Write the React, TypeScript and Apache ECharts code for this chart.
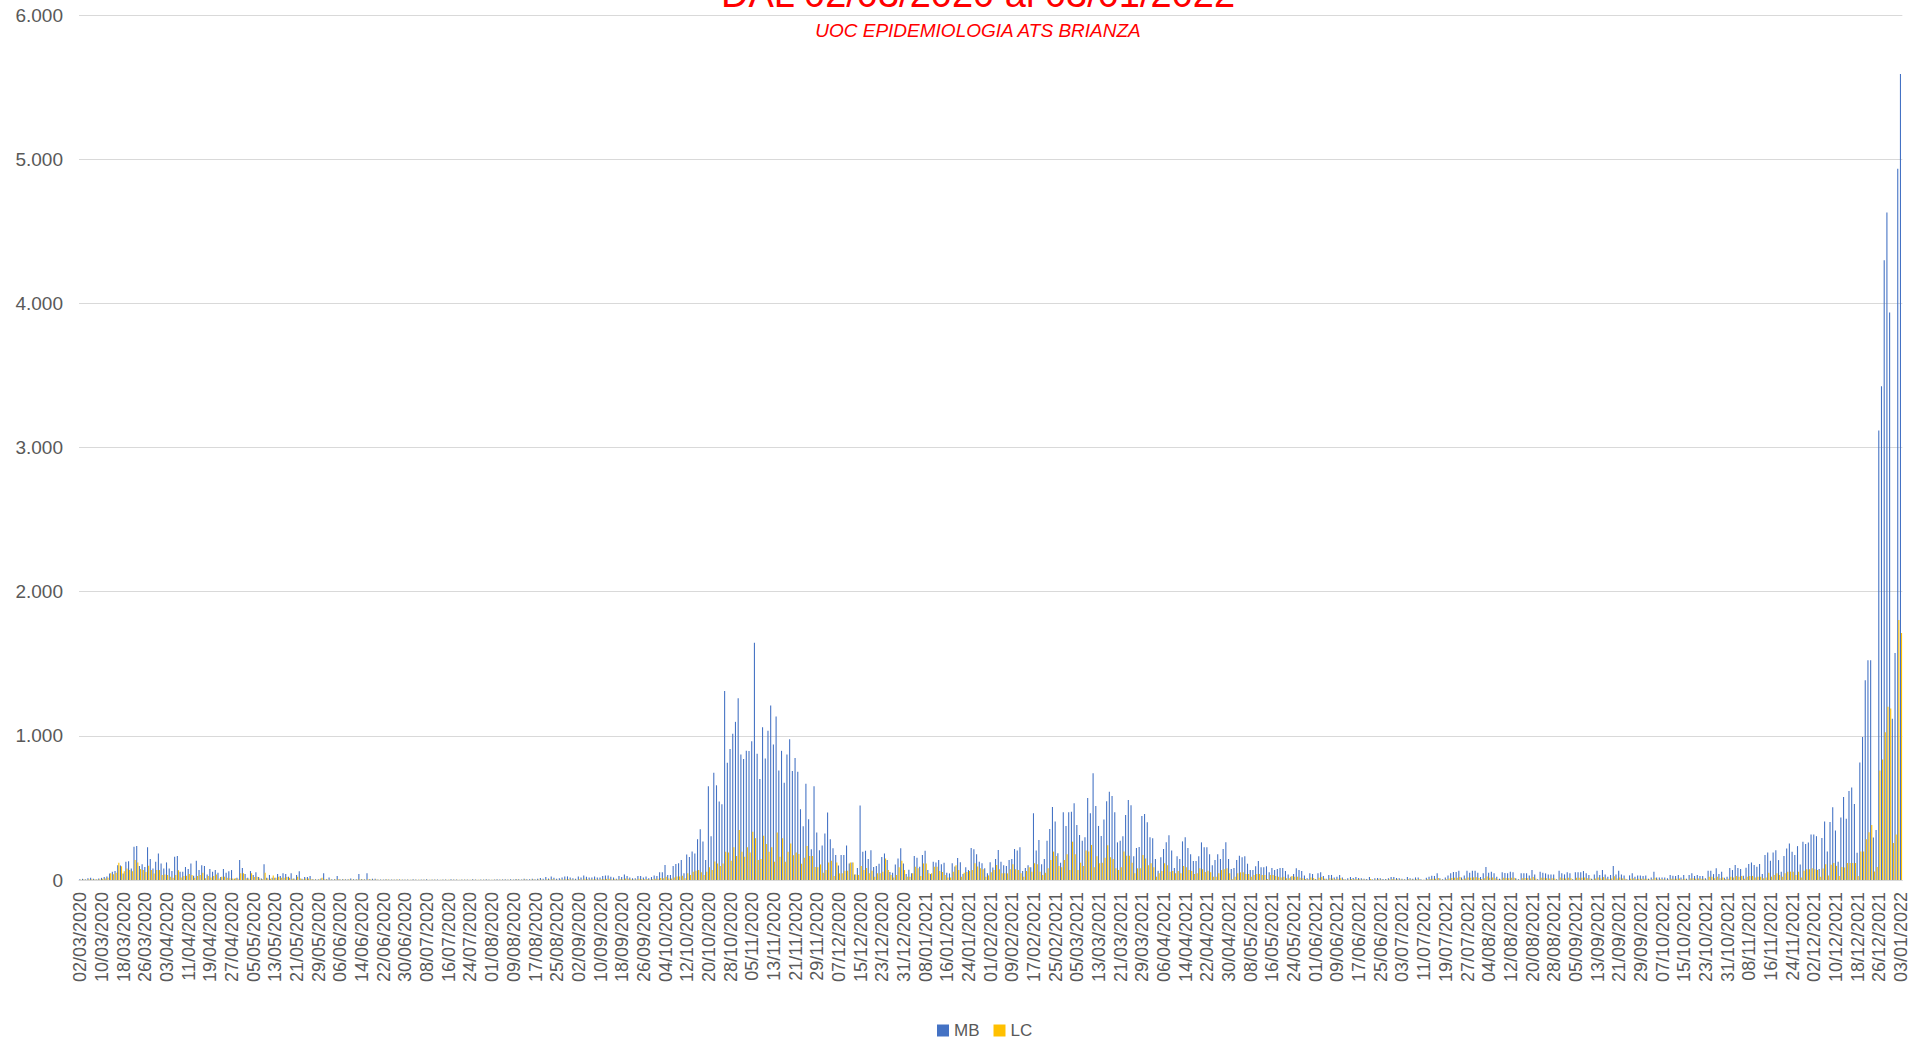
import React, { useEffect, useRef } from "react";
import * as echarts from "echarts";

// ---- Categories: daily, 02/03/2020 .. 03/01/2022 ----
const START_YEAR = 2020;
const START_MONTH = 3; // March
const START_DAY = 2;
const DAY_COUNT = 673;

function buildCategories(): string[] {
  const out: string[] = [];
  const base = Date.UTC(START_YEAR, START_MONTH - 1, START_DAY);
  for (let i = 0; i < DAY_COUNT; i++) {
    const d = new Date(base + i * 86400000);
    const dd = String(d.getUTCDate()).padStart(2, "0");
    const mm = String(d.getUTCMonth() + 1).padStart(2, "0");
    out.push(`${dd}/${mm}/${d.getUTCFullYear()}`);
  }
  return out;
}
const categories = buildCategories();

// ---- MB (Monza Brianza) daily values ----
const MB_SPRING_2020 = [
  5, 8, 5, 12, 15, 8, 5, 10, 15, 20, 25, 45, 57, 62, 103, 100, 45, 126, 130, 80,
  230, 235, 97, 110, 90, 228, 145, 80, 126, 184, 115, 80, 122, 80, 62, 161, 166, 57, 57, 90,
  76, 115, 30, 133, 69, 103, 97, 39, 76, 57, 69, 50, 20, 76, 50, 60, 69, 8, 15, 138,
  83, 41, 16, 62, 35, 53, 20, 10, 110, 15, 35, 15, 15, 41, 28, 46, 41, 23, 46, 10,
  35, 60, 8, 20, 20, 28, 5, 5, 5, 10, 46, 5, 18, 5, 5, 28, 5, 5, 5, 5,
  10, 5, 5, 41, 5, 5, 46, 5, 8, 8, 4, 3, 4, 5, 4, 4, 3, 4, 4, 4,
];
const MB_SUMMER_2020 = [
  3, 4, 2, 5, 3, 2, 4, 3, 5, 2, 3, 4, 3, 2, 4, 3, 2, 5, 3, 4,
  2, 3, 3, 4, 2, 5, 3, 2, 4, 3, 5, 3, 2, 4, 6, 3, 4, 5, 3, 6,
  4, 7, 5, 4, 8, 6, 5, 9, 6, 8,
];
const MB_SEPT_2020 = [
  14, 8, 21, 10, 25, 16, 8, 12, 18, 25, 25, 18, 12, 8, 25, 18, 32, 23, 18, 18,
  25, 18, 18, 28, 32, 32, 23, 18, 9, 28, 21, 39, 28, 18, 12, 12, 28, 28, 18, 25,
  12, 21, 32, 28, 53, 53, 104, 35, 35, 97, 111, 116, 139, 46,
];
const MB_WAVE2 = [
  177, 159, 198, 184, 283, 352, 267, 138, 650, 304, 744, 657, 544, 525, 1311, 813, 908, 1014, 1097, 1260,
  871, 839, 896, 894, 963, 1645, 876, 700, 1060, 843, 1035, 1210, 940, 1134, 760, 896, 675, 871, 977, 756,
  846, 751, 491, 373, 668, 422, 214, 650, 330, 207, 240, 323, 468, 283, 221, 173, 101, 173, 173, 240,
  115, 122, 39, 83, 516, 196, 203, 145, 207, 90, 97, 113, 159, 184, 138, 55, 51, 108, 150, 221,
  115, 41, 71, 46, 166, 154, 92, 173, 203, 69, 41, 127, 122,
];
const MB_WAVE3 = [
  139, 109, 120, 51, 46, 116, 93, 153, 123, 42, 88, 69, 222, 213, 178, 127, 116, 81, 46, 123,
  86, 146, 208, 127, 102, 97, 139, 146, 215, 204, 227, 62, 83, 102, 88, 463, 204, 278, 109, 146,
  273, 354, 507, 405, 185, 120, 470, 375, 470, 474, 532, 382, 312, 273, 296, 569, 463, 740, 514, 375,
  305, 419, 546, 613, 583, 470, 261, 273, 303, 451, 555, 518, 164, 222, 229, 444, 458, 400, 296, 289,
  146, 65, 157, 215, 261, 310, 204, 83, 164, 146, 268, 296, 222, 178, 132, 132, 164, 261, 227, 227,
  178, 102, 139, 178, 146, 215, 261, 146, 76, 83, 139, 169, 157, 164, 113, 69, 69, 95, 132, 88,
  88, 95, 53, 83, 69, 76, 83, 83, 62, 39, 23, 42, 81, 69, 62, 32, 12,
];
const MB_SUMMER_2021 = [
  46, 42, 7, 46, 53, 28, 9, 35, 35, 18, 23, 35, 18, 5, 12, 21, 14, 21, 14, 12,
  9, 7, 21, 5, 12, 14, 12, 7, 7, 12, 21, 21, 14, 12, 9, 5, 21, 12, 9, 18,
  18, 5, 2, 16, 23, 30, 28, 46, 12, 5, 18, 32, 46, 56, 56, 65, 18, 32, 65, 51,
  65, 65, 51, 21, 46, 90, 51, 58, 46, 23, 9, 53, 49, 46, 58, 53, 12, 5, 46, 46,
  46, 32, 69, 39, 5, 58, 51, 46, 39, 39, 39, 5, 65, 46, 39, 53, 46, 5, 53, 53,
  53, 62, 46, 35, 9, 39, 65, 35, 69, 39, 23, 35, 97, 39, 65, 39, 32, 5, 32, 46,
  23, 32, 32, 28, 32, 9,
];
const MB_AUTUMN_2021 = [
  18, 58, 18, 18, 18, 18, 12, 35, 30, 28, 35, 18, 35, 9, 35, 46, 28, 35, 28, 28,
  12, 65, 65, 41, 81, 41, 58, 16, 23, 83, 69, 104, 83, 76, 30, 85, 111, 122, 104, 92,
  111, 41, 173, 191, 134, 191, 207, 138, 58, 166, 219, 253, 196, 173, 235, 108, 265, 249, 260, 316,
  316, 304, 76,
];
const MB_WAVE4 = [
  291, 405, 197, 402, 504, 343, 126, 433, 575, 425, 618, 642, 528, 189, 815, 992, 1386, 1524, 1524, 295,
  346, 3118, 3425, 4299, 4630, 3937, 1118, 1575, 4933, 5590,
];

// ---- LC (Lecco) daily values ----
const LC_SPRING_2020 = [
  2, 3, 2, 5, 6, 4, 3, 5, 8, 10, 15, 46, 40, 50, 120, 95, 60, 80, 70, 60,
  138, 122, 76, 69, 55, 99, 69, 45, 69, 69, 35, 39, 35, 23, 15, 35, 67, 18, 28, 30,
  41, 35, 15, 28, 35, 50, 12, 28, 18, 28, 39, 10, 23, 23, 16, 12, 10, 12, 8, 46,
  46, 12, 8, 46, 20, 23, 10, 5, 50, 10, 8, 32, 15, 23, 15, 15, 20, 15, 8, 6,
  23, 10, 5, 10, 10, 6, 3, 2, 4, 15, 5, 3, 4, 2, 3, 6, 2, 3, 2, 3,
  4, 2, 3, 5, 4, 2, 6, 3, 2, 3, 2, 2, 2, 3, 2, 2, 2, 3, 2, 2,
];
const LC_SUMMER_2020 = [
  1, 2, 1, 2, 1, 1, 2, 1, 2, 1, 1, 2, 1, 1, 2, 1, 1, 2, 1, 2,
  1, 1, 1, 2, 1, 2, 1, 1, 2, 1, 2, 1, 1, 2, 2, 1, 2, 2, 1, 2,
  2, 3, 2, 2, 3, 2, 2, 3, 2, 3,
];
const LC_SEPT_2020 = [
  3, 2, 5, 3, 6, 4, 2, 3, 4, 6, 5, 4, 3, 2, 6, 4, 8, 5, 4, 5,
  6, 4, 5, 7, 8, 8, 6, 5, 3, 7, 6, 10, 8, 5, 4, 3, 8, 7, 5, 7,
  4, 6, 9, 8, 14, 12, 22, 10, 10, 18, 25, 24, 30, 12,
];
const LC_WAVE2 = [
  46, 35, 58, 65, 69, 53, 35, 58, 88, 69, 129, 115, 97, 115, 196, 191, 134, 228, 166, 346,
  196, 161, 228, 191, 334, 290, 138, 145, 307, 249, 196, 228, 127, 329, 161, 290, 127, 196, 253, 171,
  191, 180, 113, 154, 235, 166, 166, 90, 88, 108, 51, 69, 122, 134, 28, 122, 46, 46, 65, 65,
  122, 122, 39, 35, 97, 69, 83, 46, 65, 23, 46, 46, 58, 150, 69, 35, 18, 35, 88, 134,
  69, 23, 23, 46, 92, 81, 28, 115, 115, 46, 46, 92, 92,
];
const LC_WAVE3 = [
  62, 55, 35, 18, 18, 58, 102, 69, 23, 51, 55, 62, 69, 116, 93, 81, 74, 23, 32, 53,
  69, 104, 74, 46, 46, 46, 74, 109, 74, 69, 46, 23, 62, 88, 58, 116, 109, 58, 35, 51,
  81, 139, 197, 167, 97, 88, 139, 178, 69, 266, 178, 69, 120, 97, 204, 197, 243, 88, 164, 116,
  120, 155, 241, 157, 146, 81, 69, 88, 197, 169, 169, 120, 46, 81, 81, 173, 150, 102, 116, 88,
  23, 46, 62, 116, 102, 58, 62, 46, 62, 46, 97, 88, 69, 62, 42, 46, 81, 74, 55, 65,
  53, 23, 23, 46, 69, 74, 81, 46, 5, 23, 46, 53, 53, 42, 42, 23, 35, 42, 42, 35,
  35, 7, 35, 35, 28, 23, 18, 23, 12, 12, 28, 23, 23, 16, 12, 7, 5,
];
const LC_SUMMER_2021 = [
  18, 14, 3, 15, 20, 9, 4, 12, 10, 6, 8, 12, 6, 2, 4, 7, 5, 7, 5, 4,
  3, 2, 7, 2, 4, 5, 4, 2, 3, 4, 7, 6, 5, 4, 3, 2, 6, 4, 3, 6,
  5, 2, 1, 5, 7, 9, 8, 14, 4, 2, 6, 10, 14, 16, 15, 20, 6, 10, 18, 15,
  18, 19, 14, 7, 13, 25, 15, 17, 13, 7, 3, 15, 14, 12, 16, 15, 4, 2, 13, 14,
  13, 10, 20, 11, 2, 16, 15, 13, 11, 12, 11, 2, 18, 13, 11, 15, 13, 2, 15, 15,
  16, 18, 13, 10, 3, 11, 18, 10, 20, 11, 7, 10, 26, 11, 18, 11, 9, 2, 9, 13,
  7, 9, 9, 8, 9, 3,
];
const LC_AUTUMN_2021 = [
  5, 15, 5, 6, 5, 4, 3, 9, 8, 8, 10, 5, 9, 2, 10, 12, 8, 10, 8, 8,
  3, 23, 23, 12, 23, 12, 18, 5, 8, 23, 18, 28, 23, 28, 8, 23, 28, 28, 18, 23,
  23, 12, 18, 51, 23, 35, 46, 35, 23, 46, 58, 58, 58, 35, 58, 18, 65, 74, 74, 81,
  74, 69, 23,
];
const LC_WAVE4 = [
  79, 110, 31, 106, 118, 98, 28, 91, 87, 118, 118, 118, 118, 28, 197, 197, 283, 331, 382, 59,
  91, 760, 835, 1024, 1201, 1189, 256, 315, 1803, 1713,
];

const MB = [
  ...MB_SPRING_2020, ...MB_SUMMER_2020, ...MB_SEPT_2020, ...MB_WAVE2,
  ...MB_WAVE3, ...MB_SUMMER_2021, ...MB_AUTUMN_2021, ...MB_WAVE4,
];
const LC = [
  ...LC_SPRING_2020, ...LC_SUMMER_2020, ...LC_SEPT_2020, ...LC_WAVE2,
  ...LC_WAVE3, ...LC_SUMMER_2021, ...LC_AUTUMN_2021, ...LC_WAVE4,
];

const Y_MAX = 6000;
const Y_STEP = 1000;
const TITLE = "DAL 02/03/2020 al 03/01/2022";
const SUBTITLE = "UOC EPIDEMIOLOGIA ATS BRIANZA";

function fmtThousands(v: number): string {
  if (v === 0) return "0";
  return String(v).replace(/\B(?=(\d{3})+(?!\d))/g, ".");
}

export default function App() {
  const ref = useRef<HTMLDivElement>(null);
  useEffect(() => {
    if (!ref.current) return;
    const chart = echarts.init(ref.current, undefined, { renderer: "svg" });
    const font = '"Liberation Sans", Arial, sans-serif';
    chart.setOption({
      animation: false,
      textStyle: { fontFamily: font },
      grid: { left: 79, right: 6, top: 15, bottom: 163, containLabel: false },
      legend: {
        data: ["MB", "LC"],
        left: 932,
        top: 1017,
        icon: "rect",
        itemWidth: 12,
        itemHeight: 12,
        itemGap: 14,
        textStyle: { fontSize: 17, color: "#595959", fontFamily: font },
      },
      xAxis: {
        type: "category",
        data: categories,
        axisTick: { show: false },
        axisLine: { lineStyle: { color: "#D9D9D9", width: 1 } },
        axisLabel: {
          interval: 7,
          rotate: 90,
          fontSize: 18,
          color: "#595959",
          margin: 12,
          fontFamily: font,
        },
      },
      yAxis: {
        type: "value",
        min: 0,
        max: Y_MAX,
        interval: Y_STEP,
        axisLine: { show: false },
        axisTick: { show: false },
        splitLine: { lineStyle: { color: "#D9D9D9", width: 1 } },
        axisLabel: {
          fontSize: 19,
          color: "#595959",
          margin: 16,
          fontFamily: font,
          formatter: (v: number) => fmtThousands(v),
        },
      },
      series: [
        {
          type: "bar",
          name: "MB",
          data: MB,
          itemStyle: { color: "#4472C4" },
          barGap: "0%",
          barCategoryGap: "20%",
        },
        {
          type: "bar",
          name: "LC",
          data: LC,
          itemStyle: { color: "#FFC000" },
          barGap: "0%",
          barCategoryGap: "20%",
        },
      ],
      graphic: [
        {
          type: "text",
          x: 978,
          y: -6,
          silent: true,
          style: {
            text: TITLE,
            fill: "#FF0000",
            font: `38px ${font}`,
            align: "center",
            verticalAlign: "middle",
          },
        },
        {
          type: "text",
          x: 978,
          y: 30,
          silent: true,
          style: {
            text: SUBTITLE,
            fill: "#FF0000",
            font: `italic 19px ${font}`,
            align: "center",
            verticalAlign: "middle",
          },
        },
      ],
    });
    return () => chart.dispose();
  }, []);
  return (
    <div
      ref={ref}
      style={{ position: "absolute", left: 0, top: 0, width: 1910, height: 1043 }}
    />
  );
}
